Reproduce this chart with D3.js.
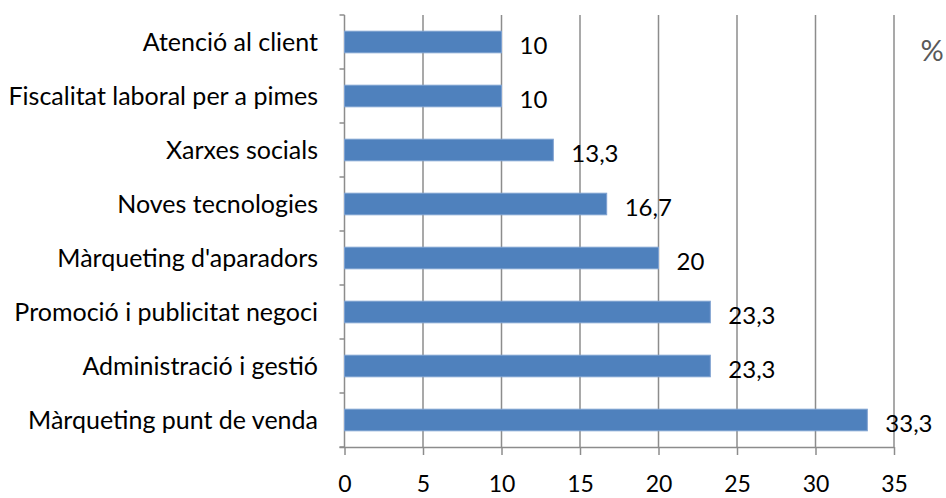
<!DOCTYPE html>
<html>
<head>
<meta charset="utf-8">
<script src="https://cdn.jsdelivr.net/npm/d3@7/dist/d3.min.js"></script>
<style>
  html, body { margin: 0; padding: 0; background: #fff; }
  svg { display: block; font-family: Lato, "Open Sans", sans-serif; }
</style>
</head>
<body>
<svg id="chart" width="946" height="498"></svg>
<script>
// Training topics (top to bottom) and the share of respondents (%)
const categories = [
  "Atenció al client",
  "Fiscalitat laboral per a pimes",
  "Xarxes socials",
  "Noves tecnologies",
  "Màrqueting d'aparadors",
  "Promoció i publicitat negoci",
  "Administració i gestió",
  "Màrqueting punt de venda"
];
const values = [10, 10, 13.3, 16.7, 20, 23.3, 23.3, 33.3];
const valueLabels = ["10", "10", "13,3", "16,7", "20", "23,3", "23,3", "33,3"];
const xTicks = [0, 5, 10, 15, 20, 25, 30, 35];
const unitLabel = "%";

const svg = d3.select("#chart");
const margin = { left: 344.5, right: 52, top: 15, bottom: 51 };
const W = 946, H = 498;

const x = d3.scaleLinear().domain([0, 35]).range([margin.left, W - margin.right]);
const y = d3.scaleBand().domain(categories).range([margin.top, H - margin.bottom]).paddingInner(0.6).paddingOuter(0.3);
const band = d3.scaleBand().domain(categories).range([margin.top, H - margin.bottom]);

const gridColor = "#8c8c8c";

// vertical gridlines
svg.append("g").selectAll("line").data(xTicks.slice(1)).join("line")
  .attr("x1", d => x(d)).attr("x2", d => x(d))
  .attr("y1", margin.top).attr("y2", H - margin.bottom)
  .attr("stroke", gridColor).attr("stroke-width", 1.5);

// bottom axis
const xAxis = svg.append("g")
  .attr("transform", `translate(0,${H - margin.bottom})`)
  .call(d3.axisBottom(x).tickValues(xTicks).tickSize(8).tickPadding(21).tickFormat(d3.format("d")));
xAxis.select(".domain").attr("stroke", gridColor).attr("stroke-width", 1.5)
  .attr("d", `M${margin.left - 5},0.5H${W - margin.right}`);
xAxis.selectAll(".tick line").attr("stroke", gridColor).attr("stroke-width", 1.5);
xAxis.selectAll(".tick text").attr("font-size", 23).attr("fill", "#000").attr("font-family", "Lato");

// left axis with ticks on category boundaries
const boundaries = categories.map(c => band(c)).concat([H - margin.bottom]);
svg.append("line")
  .attr("x1", margin.left).attr("x2", margin.left)
  .attr("y1", margin.top).attr("y2", H - margin.bottom)
  .attr("stroke", gridColor).attr("stroke-width", 1.5);
svg.append("g").selectAll("line").data(boundaries).join("line")
  .attr("x1", margin.left - 5).attr("x2", margin.left)
  .attr("y1", d => d).attr("y2", d => d)
  .attr("stroke", gridColor).attr("stroke-width", 1.5);

// category labels
svg.append("g").selectAll("text").data(categories).join("text")
  .attr("x", 318)
  .attr("y", d => band(d) + band.bandwidth() / 2)
  .attr("dy", "0.35em")
  .attr("text-anchor", "end")
  .attr("font-size", 25)
  .attr("fill", "#000")
  .text(d => d);

// bars
svg.append("g").selectAll("rect").data(values).join("rect")
  .attr("x", x(0))
  .attr("y", (d, i) => y(categories[i]))
  .attr("width", d => x(d) - x(0))
  .attr("height", y.bandwidth())
  .attr("fill", "#4f81bd")
  .attr("stroke", "#7ea1d1")
  .attr("stroke-width", 1);

// value labels
svg.append("g").selectAll("text").data(values).join("text")
  .attr("x", d => x(d) + 18)
  .attr("y", (d, i) => y(categories[i]) + y.bandwidth() / 2 + 4)
  .attr("dy", "0.35em")
  .attr("font-size", 24)
  .attr("fill", "#000")
  .text((d, i) => valueLabels[i]);

// unit label
svg.append("text")
  .attr("x", 932).attr("y", 51).attr("dy", "0.35em")
  .attr("text-anchor", "middle")
  .attr("font-size", 29)
  .attr("fill", "#595959")
  .text(unitLabel);
</script>
</body>
</html>
